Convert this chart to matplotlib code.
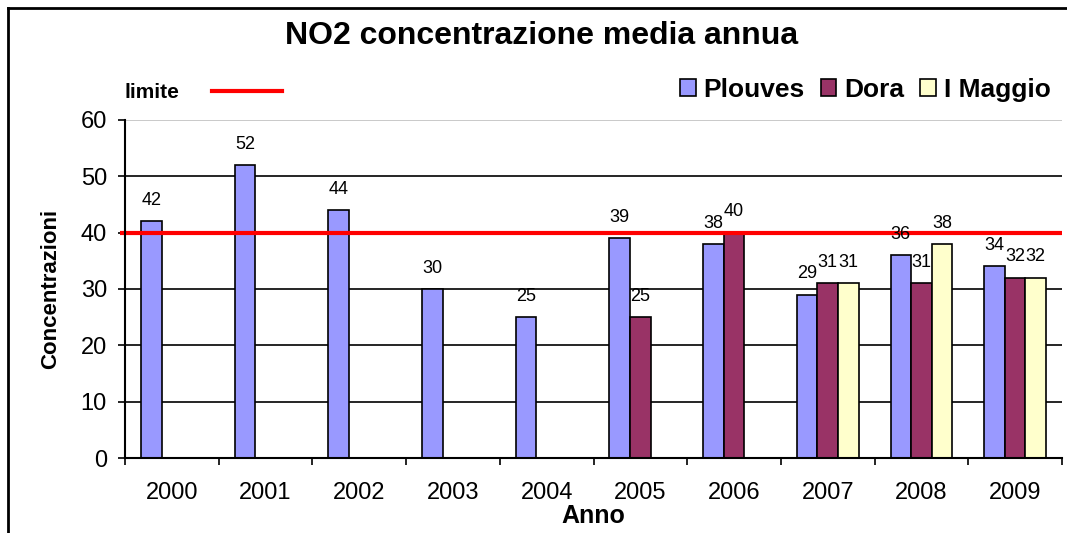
import numpy as np
import matplotlib.pyplot as plt
from matplotlib.lines import Line2D
from matplotlib.patches import Patch

plt.rcParams["font.family"] = ["Liberation Sans", "DejaVu Sans"]

anni = ["2000", "2001", "2002", "2003", "2004", "2005", "2006", "2007", "2008", "2009"]
plouves = [42, 52, 44, 30, 25, 39, 38, 29, 36, 34]
dora = [np.nan, np.nan, np.nan, np.nan, np.nan, 25, 40, 31, 31, 32]
maggio = [np.nan, np.nan, np.nan, np.nan, np.nan, np.nan, np.nan, 31, 38, 32]
limite = 40

series = [("Plouves", plouves, "#9999FF"),
          ("Dora", dora, "#993366"),
          ("I Maggio", maggio, "#FFFFCC")]

fig = plt.figure(figsize=(10.67, 5.33), dpi=100)
ax = fig.add_axes([0.1172, 0.1407, 0.8781, 0.6342])

x = np.arange(len(anni))
w = 0.22
for i, (name, vals, col) in enumerate(series):
    vals = np.array(vals, dtype=float)
    pos = x + (i - 1) * w
    ax.bar(pos, vals, width=w, color=col, edgecolor="black", linewidth=1.2, zorder=3)
    for px, v in zip(pos, vals):
        if np.isnan(v):
            continue
        ax.annotate(f"{v:.0f}", (px, v), xytext=(0, 15), textcoords="offset points",
                    ha="center", va="center", fontsize=13, zorder=5)

ax.set_xlim(-0.5, len(anni) - 0.5)
ax.set_ylim(0, 60)
ax.set_yticks(np.arange(0, 61, 10))
for y in range(10, 60, 10):
    ax.axhline(y, color="black", linewidth=1.2, zorder=1)
ax.axhline(60, color="#c0c0c0", linewidth=1.2, zorder=1)

# limit line, slightly left of the axis like the original
ax.plot([-0.55, len(anni) - 0.5], [limite, limite], color="red", linewidth=3,
        zorder=4, clip_on=False, solid_capstyle="butt")

ax.set_xticks(x)
ax.set_xticklabels(anni, fontsize=17)
ax.set_xticks(np.arange(-0.5, len(anni)), minor=True)
ax.tick_params(axis="x", which="major", length=0, pad=17)
ax.tick_params(axis="x", which="minor", direction="out", length=5, width=1.2)
ax.tick_params(axis="y", direction="out", length=5, width=1.2, labelsize=17, pad=8)

for s in ["top", "right"]:
    ax.spines[s].set_visible(False)
for s in ["left", "bottom"]:
    ax.spines[s].set_linewidth(1.5)
    ax.spines[s].set_zorder(6)

ax.set_ylabel("Concentrazioni", fontsize=16, fontweight="bold", labelpad=14)
ax.set_xlabel("Anno", fontsize=18, fontweight="bold", labelpad=0)

fig.text(0.508, 0.932, "NO2 concentrazione media annua", fontsize=23,
         fontweight="bold", ha="center", va="center")

# "limite" legend
fig.text(0.117, 0.827, "limite", fontsize=15, fontweight="bold", va="center")
fig.add_artist(Line2D([212 / 1067, 282 / 1067], [0.829, 0.829], color="red", linewidth=3))

handles = [Patch(facecolor=c, edgecolor="black", linewidth=1.2) for _, _, c in series]
fig.legend(handles, [n for n, _, _ in series], loc="center right",
           bbox_to_anchor=(1.007, 0.832), ncol=3, frameon=False,
           prop={"size": 19, "weight": "bold"}, handlelength=0.6, handleheight=0.6,
           handletextpad=0.3, columnspacing=0.6)

# outer chart frame (left and top edges visible)
fig.add_artist(Line2D([0.0075, 0.0075], [0, 0.985], color="black", linewidth=2))
fig.add_artist(Line2D([0.0075, 1], [0.985, 0.985], color="black", linewidth=2))

fig.savefig("out.png", dpi=100)
